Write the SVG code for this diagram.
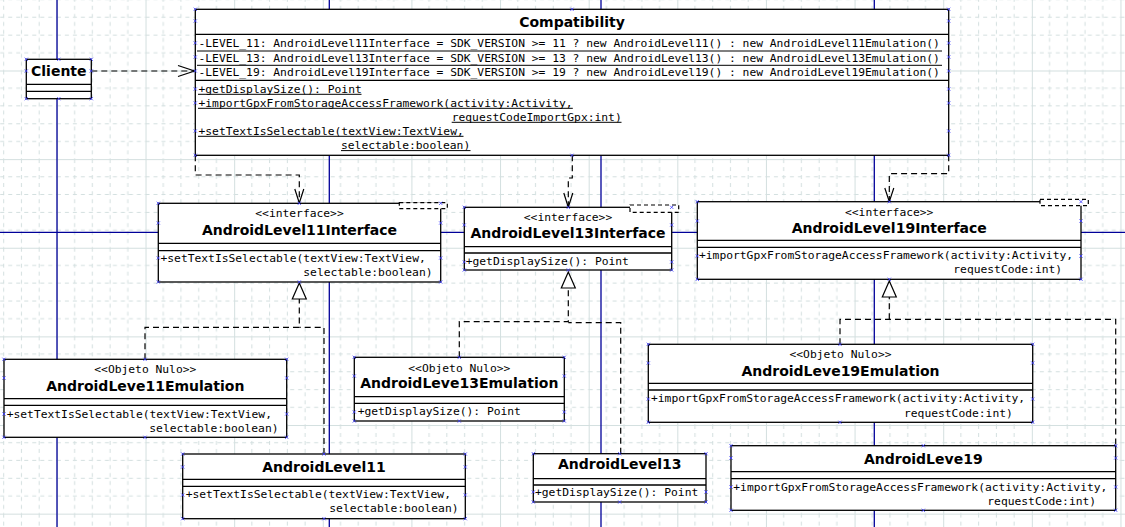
<svg xmlns="http://www.w3.org/2000/svg" width="1125" height="527" viewBox="0 0 1125 527">
<style>
.box{fill:#fff;stroke:#000;stroke-width:1.3}
.sep{stroke:#000;stroke-width:1.3;fill:none}
.ul{stroke:#000;stroke-width:1;fill:none}
.name{font-family:"DejaVu Sans",sans-serif;font-weight:bold;font-size:14px;text-anchor:middle;fill:#000}
.mono{font-family:"DejaVu Sans Mono",monospace;font-size:11.3px;fill:#000}
.st{font-family:"DejaVu Sans Mono",monospace;font-size:11.3px;fill:#000;text-anchor:middle}
.dep{stroke:#000;stroke-width:1.2;fill:none;stroke-dasharray:6 4}
.head{stroke:#000;stroke-width:1.2;fill:none}
.tri{stroke:#000;stroke-width:1.2;fill:#fff}
.tmpl{stroke:#000;stroke-width:1.2;fill:#fff;stroke-dasharray:4 3}
.page{stroke:#000099;stroke-width:1.3}
</style>
<defs>
<pattern id="grid" patternUnits="userSpaceOnUse" x="56.9" y="70.5" width="88.63" height="88.63">
<path d="M17.73 0V88.63M35.45 0V88.63M53.18 0V88.63M70.9 0V88.63M0 17.73H88.63M0 35.45H88.63M0 53.18H88.63M0 70.9H88.63" stroke="#d3dfdf" stroke-width="1" stroke-dasharray="4 4" fill="none"/>
<path d="M0.5 0V88.63M0 0.5H88.63" stroke="#d3dfdf" stroke-width="1" fill="none"/>
</pattern>
<symbol id="mk" overflow="visible"><path d="M-1.6-1.6L1.6 1.6M-1.6 1.6L1.6-1.6" stroke="#3a3aff" stroke-width="0.8"/></symbol>
</defs>
<rect width="1125" height="527" fill="#fff"/>
<rect width="1125" height="527" fill="url(#grid)"/>
<g id="pages">
<line class="page" x1="57" y1="0" x2="57" y2="527"/>
<line class="page" x1="329.3" y1="0" x2="329.3" y2="527"/>
<line class="page" x1="601" y1="0" x2="601" y2="527"/>
<line class="page" x1="874.3" y1="0" x2="874.3" y2="527"/>
<line class="page" x1="0" y1="232.3" x2="1125" y2="232.3"/>
</g>
<g id="connectors">
<path class="dep" d="M91.3 71H194"/>
<path class="head" d="M178 65.5L194.5 71L178 76.5"/>
<path class="dep" d="M195.3 155.3V175H299.3V203"/>
<path class="head" d="M294.8 189L299.3 203L303.8 189"/>
<path class="dep" d="M572.3 155.3V178H568.3V207.3"/>
<path class="head" d="M563.8 193L568.3 207.3L572.8 193"/>
<path class="dep" d="M948.7 155.3V173.7H889.3V201.7"/>
<path class="head" d="M884.8 188L889.3 201.7L893.8 188"/>
<path class="dep" d="M145 359.3V327.3H299.3V298"/>
<path class="dep" d="M324 454V327.3H299.3"/>
<path class="tri" d="M299.3 283L306.3 299L292.3 299Z"/>
<path class="dep" d="M459.3 357.3V321.7H568.3V288"/>
<path class="dep" d="M620.7 453.7V322.7H568.3"/>
<path class="tri" d="M568.3 272L575.3 288L561.3 288Z"/>
<path class="dep" d="M840 344.3V319.3H1115.7V445.7"/>
<path class="dep" d="M889.3 319.3V297"/>
<path class="tri" d="M889.3 281L896.3 297L882.3 297Z"/>
</g>
<g id="Cliente">
<rect class="box" x="26.3" y="59.3" width="65" height="39.4"/>
<text class="name" x="58.8" y="76">Cliente</text>
<path class="sep" d="M26.3 84.3H91.3M26.3 91.3H91.3"/>
</g>
<g id="Compatibility">
<rect class="box" x="195.3" y="9.3" width="753.4" height="146"/>
<text class="name" x="572" y="26.9">Compatibility</text>
<path class="sep" d="M195.3 34.3H948.7M195.3 80.3H948.7"/>
<text class="mono" x="198.5" y="47.3">-LEVEL_11: AndroidLevel11Interface = SDK_VERSION &gt;= 11 ? new AndroidLevel11() : new AndroidLevel11Emulation()</text>
<text class="mono" x="198.5" y="61.5">-LEVEL_13: AndroidLevel13Interface = SDK_VERSION &gt;= 13 ? new AndroidLevel13() : new AndroidLevel13Emulation()</text>
<text class="mono" x="198.5" y="75.7">-LEVEL_19: AndroidLevel19Interface = SDK_VERSION &gt;= 19 ? new AndroidLevel19() : new AndroidLevel19Emulation()</text>
<path class="ul" d="M197 51H942M197 65.3H942"/>
<text class="mono" x="198.5" y="92.7">+getDisplaySize(): Point</text>
<text class="mono" x="198.5" y="106.7">+importGpxFromStorageAccessFramework(activity:Activity,</text>
<text class="mono" x="451.7" y="120.7">requestCodeImportGpx:int)</text>
<text class="mono" x="198.5" y="134.7">+setTextIsSelectable(textView:TextView,</text>
<text class="mono" x="341" y="149">selectable:boolean)</text>
<path class="ul" d="M198 94.3H361.5M198 108.3H572.8M451.7 122.3H621.5M198 136.3H463.5M341 150.6H470.5"/>
</g>
<g id="AndroidLevel11Interface">
<rect class="box" x="158.3" y="203.3" width="282.4" height="78.7"/>
<rect class="tmpl" x="399.3" y="202.7" width="48" height="6"/>
<text class="st" x="299.5" y="217.3">&lt;&lt;interface&gt;&gt;</text>
<text class="name" x="299.5" y="235.3">AndroidLevel11Interface</text>
<path class="sep" d="M158.3 243.3H440.7M158.3 250.7H440.7"/>
<text class="mono" x="160.5" y="261.7">+setTextIsSelectable(textView:TextView,</text>
<text class="mono" x="303.3" y="276">selectable:boolean)</text>
</g>
<g id="AndroidLevel13Interface">
<rect class="box" x="464.3" y="207.3" width="207.4" height="62.7"/>
<rect class="tmpl" x="630" y="205" width="48.7" height="7.3"/>
<text class="st" x="568" y="220.7">&lt;&lt;interface&gt;&gt;</text>
<text class="name" x="568" y="238.3">AndroidLevel13Interface</text>
<path class="sep" d="M464.3 246.7H671.7M464.3 253H671.7"/>
<text class="mono" x="465.7" y="265.3">+getDisplaySize(): Point</text>
</g>
<g id="AndroidLevel19Interface">
<rect class="box" x="697.3" y="201.7" width="383.7" height="77.6"/>
<rect class="tmpl" x="1040" y="199.3" width="48.3" height="6.4"/>
<text class="st" x="889.2" y="216">&lt;&lt;interface&gt;&gt;</text>
<text class="name" x="889.2" y="232.7">AndroidLevel19Interface</text>
<path class="sep" d="M697.3 240.3H1081M697.3 247.3H1081"/>
<text class="mono" x="699" y="259.3">+importGpxFromStorageAccessFramework(activity:Activity,</text>
<text class="mono" x="953.3" y="273.3">requestCode:int)</text>
</g>
<g id="AndroidLeve11Emulation">
<rect class="box" x="4" y="359.3" width="282.7" height="78"/>
<text class="st" x="145.3" y="372.7">&lt;&lt;Objeto Nulo&gt;&gt;</text>
<text class="name" x="145.3" y="390.7">AndroidLeve11Emulation</text>
<path class="sep" d="M4 398.7H286.7M4 405.3H286.7"/>
<text class="mono" x="6.7" y="418">+setTextIsSelectable(textView:TextView,</text>
<text class="mono" x="149.3" y="431.7">selectable:boolean)</text>
</g>
<g id="AndroidLeve13Emulation">
<rect class="box" x="354.3" y="357.3" width="210" height="63.7"/>
<text class="st" x="459.3" y="371.7">&lt;&lt;Objeto Nulo&gt;&gt;</text>
<text class="name" x="459.3" y="388.3">AndroidLeve13Emulation</text>
<path class="sep" d="M354.3 396.7H564.3M354.3 403.3H564.3"/>
<text class="mono" x="357.7" y="415.3">+getDisplaySize(): Point</text>
</g>
<g id="AndroidLeve19Emulation">
<rect class="box" x="648.3" y="344.3" width="384.4" height="78"/>
<text class="st" x="840.5" y="358.3">&lt;&lt;Objeto Nulo&gt;&gt;</text>
<text class="name" x="840.5" y="375.7">AndroidLeve19Emulation</text>
<path class="sep" d="M648.3 383.3H1032.7M648.3 390H1032.7"/>
<text class="mono" x="651" y="402.3">+importGpxFromStorageAccessFramework(activity:Activity,</text>
<text class="mono" x="904" y="416.7">requestCode:int)</text>
</g>
<g id="AndroidLevel11">
<rect class="box" x="182.7" y="454" width="282.6" height="64.7"/>
<text class="name" x="324" y="472.3">AndroidLevel11</text>
<path class="sep" d="M182.7 479.3H465.3M182.7 486.3H465.3"/>
<text class="mono" x="185.7" y="498.3">+setTextIsSelectable(textView:TextView,</text>
<text class="mono" x="329.3" y="512.3">selectable:boolean)</text>
</g>
<g id="AndroidLevel13">
<rect class="box" x="533.3" y="453.7" width="172.7" height="48.3"/>
<text class="name" x="619.7" y="469.3">AndroidLevel13</text>
<path class="sep" d="M533.3 478.7H706M533.3 485H706"/>
<text class="mono" x="535" y="495.7">+getDisplaySize(): Point</text>
</g>
<g id="AndroidLeve19">
<rect class="box" x="731" y="445.7" width="384.7" height="64.6"/>
<text class="name" x="923.3" y="464">AndroidLeve19</text>
<path class="sep" d="M731 471.7H1115.7M731 478.7H1115.7"/>
<text class="mono" x="733.3" y="491">+importGpxFromStorageAccessFramework(activity:Activity,</text>
<text class="mono" x="987.3" y="504.7">requestCode:int)</text>
</g>
<g id="markers">
<use href="#mk" x="26.3" y="59.3"/><use href="#mk" x="91.3" y="59.3"/><use href="#mk" x="26.3" y="98.7"/><use href="#mk" x="91.3" y="98.7"/><use href="#mk" x="58.8" y="59.3"/><use href="#mk" x="58.8" y="98.7"/><use href="#mk" x="26.3" y="71"/><use href="#mk" x="91.3" y="71"/>
<use href="#mk" x="195.3" y="9.3"/><use href="#mk" x="948.7" y="9.3"/><use href="#mk" x="195.3" y="155.3"/><use href="#mk" x="948.7" y="155.3"/><use href="#mk" x="572" y="9.3"/><use href="#mk" x="572" y="155.3"/><use href="#mk" x="195.3" y="21"/><use href="#mk" x="948.7" y="21"/><use href="#mk" x="195.3" y="43"/><use href="#mk" x="948.7" y="43"/><use href="#mk" x="195.3" y="57"/><use href="#mk" x="948.7" y="57"/><use href="#mk" x="195.3" y="71"/><use href="#mk" x="948.7" y="71"/><use href="#mk" x="195.3" y="89"/><use href="#mk" x="948.7" y="89"/><use href="#mk" x="195.3" y="103"/><use href="#mk" x="948.7" y="103"/><use href="#mk" x="195.3" y="131"/><use href="#mk" x="948.7" y="131"/>
<use href="#mk" x="158.3" y="203.3"/><use href="#mk" x="440.7" y="203.3"/><use href="#mk" x="158.3" y="282"/><use href="#mk" x="440.7" y="282"/><use href="#mk" x="299.3" y="203.3"/><use href="#mk" x="299.3" y="282"/><use href="#mk" x="158.3" y="223"/><use href="#mk" x="440.7" y="223"/><use href="#mk" x="158.3" y="258"/><use href="#mk" x="440.7" y="258"/>
<use href="#mk" x="464.3" y="207.3"/><use href="#mk" x="671.7" y="207.3"/><use href="#mk" x="464.3" y="270"/><use href="#mk" x="671.7" y="270"/><use href="#mk" x="568.3" y="207.3"/><use href="#mk" x="568.3" y="270"/><use href="#mk" x="464.3" y="225"/><use href="#mk" x="671.7" y="225"/><use href="#mk" x="464.3" y="262"/><use href="#mk" x="671.7" y="262"/>
<use href="#mk" x="697.3" y="201.7"/><use href="#mk" x="1081" y="201.7"/><use href="#mk" x="697.3" y="279.3"/><use href="#mk" x="1081" y="279.3"/><use href="#mk" x="889.3" y="201.7"/><use href="#mk" x="889.3" y="279.3"/><use href="#mk" x="697.3" y="221"/><use href="#mk" x="1081" y="221"/><use href="#mk" x="697.3" y="256"/><use href="#mk" x="1081" y="256"/>
<use href="#mk" x="4" y="359.3"/><use href="#mk" x="286.7" y="359.3"/><use href="#mk" x="4" y="437.3"/><use href="#mk" x="286.7" y="437.3"/><use href="#mk" x="145" y="359.3"/><use href="#mk" x="145" y="437.3"/><use href="#mk" x="4" y="378"/><use href="#mk" x="286.7" y="378"/><use href="#mk" x="4" y="414"/><use href="#mk" x="286.7" y="414"/>
<use href="#mk" x="354.3" y="357.3"/><use href="#mk" x="564.3" y="357.3"/><use href="#mk" x="354.3" y="421"/><use href="#mk" x="564.3" y="421"/><use href="#mk" x="459.3" y="357.3"/><use href="#mk" x="459.3" y="421"/><use href="#mk" x="354.3" y="376"/><use href="#mk" x="564.3" y="376"/><use href="#mk" x="354.3" y="412"/><use href="#mk" x="564.3" y="412"/>
<use href="#mk" x="648.3" y="344.3"/><use href="#mk" x="1032.7" y="344.3"/><use href="#mk" x="648.3" y="422.3"/><use href="#mk" x="1032.7" y="422.3"/><use href="#mk" x="840" y="344.3"/><use href="#mk" x="840" y="422.3"/><use href="#mk" x="648.3" y="363"/><use href="#mk" x="1032.7" y="363"/><use href="#mk" x="648.3" y="399"/><use href="#mk" x="1032.7" y="399"/>
<use href="#mk" x="182.7" y="454"/><use href="#mk" x="465.3" y="454"/><use href="#mk" x="182.7" y="518.7"/><use href="#mk" x="465.3" y="518.7"/><use href="#mk" x="324" y="454"/><use href="#mk" x="324" y="518.7"/><use href="#mk" x="182.7" y="467"/><use href="#mk" x="465.3" y="467"/><use href="#mk" x="182.7" y="495"/><use href="#mk" x="465.3" y="495"/>
<use href="#mk" x="533.3" y="453.7"/><use href="#mk" x="706" y="453.7"/><use href="#mk" x="533.3" y="502"/><use href="#mk" x="706" y="502"/><use href="#mk" x="619.7" y="453.7"/><use href="#mk" x="619.7" y="502"/><use href="#mk" x="533.3" y="492"/><use href="#mk" x="706" y="492"/>
<use href="#mk" x="731" y="445.7"/><use href="#mk" x="1115.7" y="445.7"/><use href="#mk" x="731" y="510.3"/><use href="#mk" x="1115.7" y="510.3"/><use href="#mk" x="923.3" y="445.7"/><use href="#mk" x="923.3" y="510.3"/><use href="#mk" x="731" y="458"/><use href="#mk" x="1115.7" y="458"/><use href="#mk" x="731" y="487"/><use href="#mk" x="1115.7" y="487"/>
</g>
</svg>
